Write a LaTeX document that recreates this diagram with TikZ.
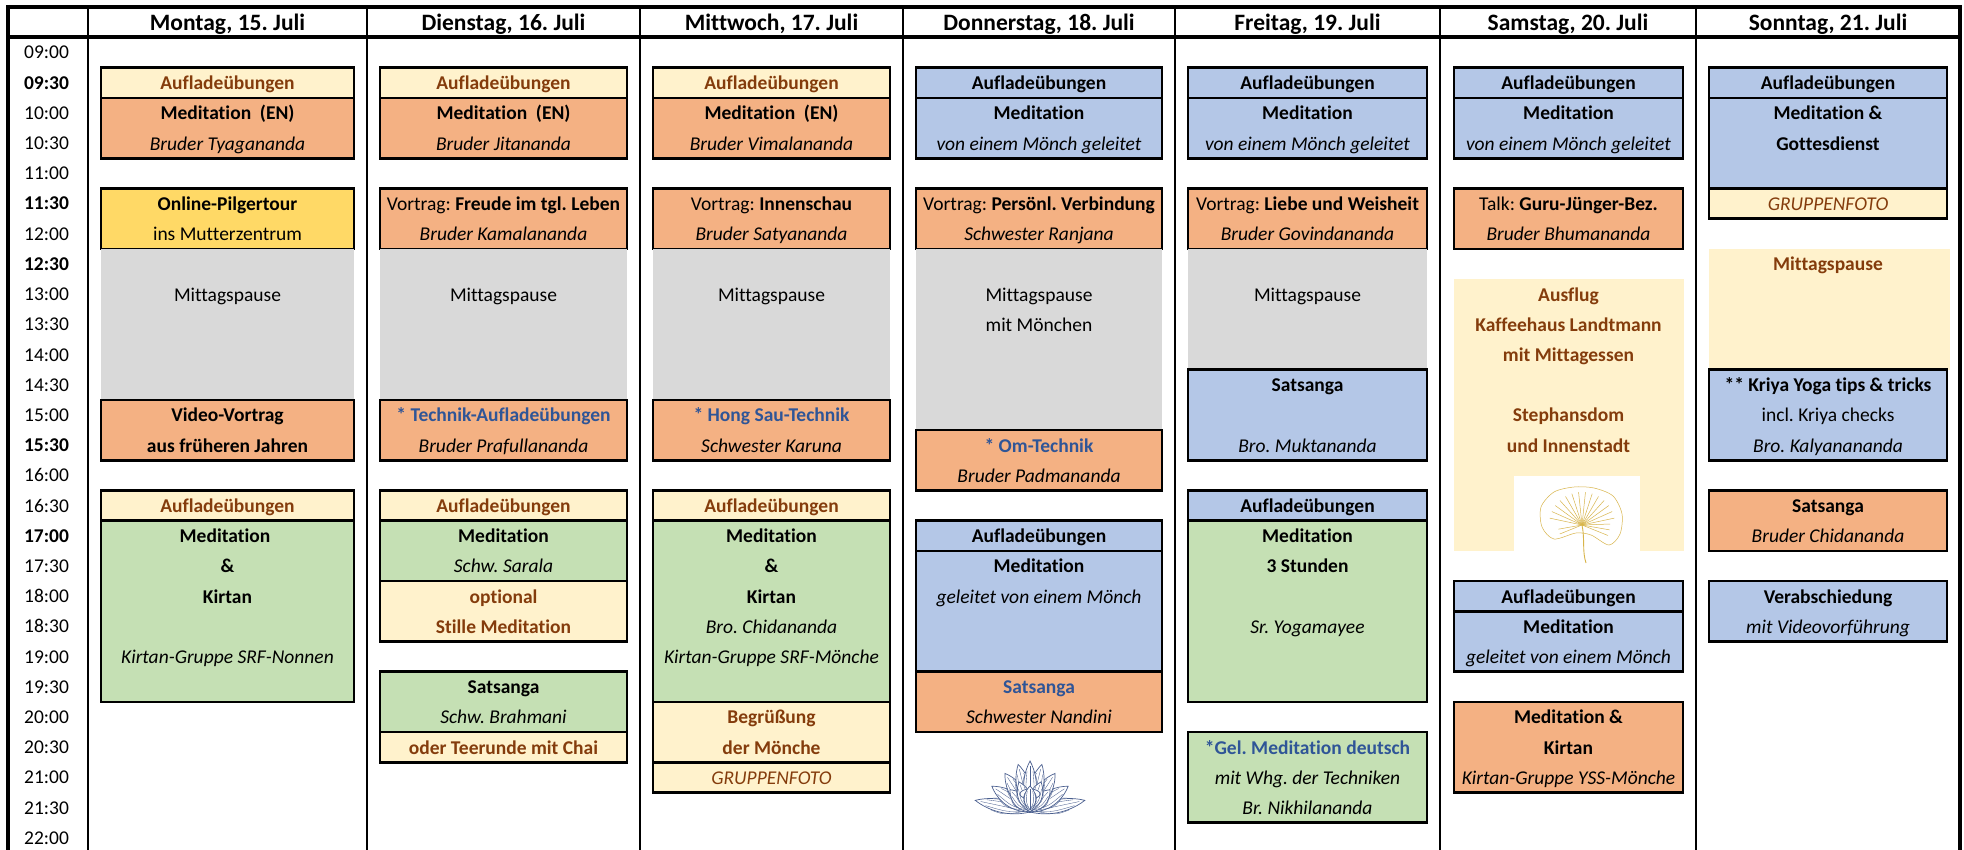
\documentclass[tikz,border=0pt]{standalone}
\usepackage{fontspec}
\setmainfont{Carlito}[Ligatures={NoCommon}]
\frenchspacing
\definecolor{cream}{HTML}{FFF2CC}
\definecolor{orng}{HTML}{F4B183}
\definecolor{blu}{HTML}{B4C7E7}
\definecolor{grn}{HTML}{C5E0B4}
\definecolor{gry}{HTML}{D9D9D9}
\definecolor{yel}{HTML}{FFD966}
\definecolor{brn}{HTML}{843C0C}
\definecolor{tblu}{HTML}{2F5597}
\definecolor{lotusc}{HTML}{4A5F8F}
\definecolor{ginkc}{HTML}{D8B54A}
\newcommand\fs{\fontsize{19.5}{23}\selectfont}
\newcommand\hs{\fontsize{23.5}{27}\selectfont}
\newcommand\slot[5]{\path[#5] (#1,{37.5+30.2*(#3)}) rectangle (#2,{37.5+30.2*(#4)});}
\newcommand\tline[5]{\node[txt,#4] (#1) at (#2,{37.5+30.2*(#3)+22}) {#5};}
\newcommand\petal[3]{%
  \draw[lotus, rotate=#1] (0,0) .. controls (-#3,-0.45*#2) and (-0.35*#3,-0.85*#2) .. (0,-#2) .. controls (0.35*#3,-0.85*#2) and (#3,-0.45*#2) .. cycle;
  \draw[lotusv, rotate=#1] (0,-0.08*#2) -- (0,-0.9*#2);
  \draw[lotusv, rotate=#1] (0,-0.08*#2) .. controls (-0.4*#3,-0.4*#2) .. (-0.25*#3,-0.8*#2);
  \draw[lotusv, rotate=#1] (0,-0.08*#2) .. controls (0.4*#3,-0.4*#2) .. (0.25*#3,-0.8*#2);
  \draw[lotusv, rotate=#1] (0,-0.08*#2) .. controls (-0.7*#3,-0.45*#2) .. (-0.5*#3,-0.7*#2);
  \draw[lotusv, rotate=#1] (0,-0.08*#2) .. controls (0.7*#3,-0.45*#2) .. (0.5*#3,-0.7*#2);}
\begin{document}
\begin{tikzpicture}[x=1pt,y=-1pt,
  txt/.style={anchor=base, inner sep=0pt, font=\fs},
  tbold/.style={font=\fs\bfseries},
  tital/.style={font=\fs\itshape},
  treg/.style={},
  tbrown/.style={font=\fs\bfseries, text=brn},
  tbrowni/.style={font=\fs\itshape, text=brn},
  tblue/.style={font=\fs\bfseries, text=tblu},
  hd/.style={anchor=base, inner sep=0pt, font=\hs\bfseries},
  tn/.style={}, tb/.style={font=\fs\bfseries},
  frame/.style={line width=4pt, draw=black},
  gridl/.style={line width=2.2pt, draw=black},
  boxcr/.style={fill=cream, draw=black, line width=2.5pt},
  boxor/.style={fill=orng, draw=black, line width=2.5pt},
  boxbu/.style={fill=blu, draw=black, line width=2.5pt},
  boxgr/.style={fill=grn, draw=black, line width=2.5pt},
  boxye/.style={fill=yel, draw=black, line width=2.5pt},
  boxgy/.style={fill=gry},
  boxcn/.style={fill=cream},
  lotus/.style={draw=lotusc, fill=white, line width=0.7pt},
  lotusv/.style={draw=lotusc, line width=0.35pt},
  ginkgo/.style={draw=ginkc, line width=0.5pt}]
\useasboundingbox (0,0) rectangle (1964,850);
\fill[white] (0,0) rectangle (1964,850);
% ---------- boxes ----------
% Monday
\slot{101}{354}{1}{2}{boxcr}
\slot{101}{354}{2}{4}{boxor}
\slot{101}{354}{5}{7}{boxye}
\slot{101}{354}{7}{12}{boxgy}
\slot{101}{354}{12}{14}{boxor}
\slot{101}{354}{15}{16}{boxcr}
\slot{101}{354}{16}{22}{boxgr}
% Tuesday
\slot{380}{627}{1}{2}{boxcr}
\slot{380}{627}{2}{4}{boxor}
\slot{380}{627}{5}{7}{boxor}
\slot{380}{627}{7}{12}{boxgy}
\slot{380}{627}{12}{14}{boxor}
\slot{380}{627}{15}{16}{boxcr}
\slot{380}{627}{16}{18}{boxgr}
\slot{380}{627}{18}{20}{boxcr}
\slot{380}{627}{21}{23}{boxgr}
\slot{380}{627}{23}{24}{boxcr}
% Wednesday
\slot{653}{890}{1}{2}{boxcr}
\slot{653}{890}{2}{4}{boxor}
\slot{653}{890}{5}{7}{boxor}
\slot{653}{890}{7}{12}{boxgy}
\slot{653}{890}{12}{14}{boxor}
\slot{653}{890}{15}{16}{boxcr}
\slot{653}{890}{16}{22}{boxgr}
\slot{653}{890}{22}{24}{boxcr}
\slot{653}{890}{24}{25}{boxcr}
% Thursday
\slot{916}{1162}{1}{2}{boxbu}
\slot{916}{1162}{2}{4}{boxbu}
\slot{916}{1162}{5}{7}{boxor}
\slot{916}{1162}{7}{13}{boxgy}
\slot{916}{1162}{13}{15}{boxor}
\slot{916}{1162}{16}{17}{boxbu}
\slot{916}{1162}{17}{21}{boxbu}
\slot{916}{1162}{21}{23}{boxor}
% Friday
\slot{1188}{1427}{1}{2}{boxbu}
\slot{1188}{1427}{2}{4}{boxbu}
\slot{1188}{1427}{5}{7}{boxor}
\slot{1188}{1427}{7}{11}{boxgy}
\slot{1188}{1427}{11}{14}{boxbu}
\slot{1188}{1427}{15}{16}{boxbu}
\slot{1188}{1427}{16}{22}{boxgr}
\slot{1188}{1427}{23}{26}{boxgr}
% Saturday
\slot{1454}{1683}{1}{2}{boxbu}
\slot{1454}{1683}{2}{4}{boxbu}
\slot{1454}{1683}{5}{7}{boxor}
\slot{1454}{1684}{8}{17}{boxcn}
\slot{1454}{1683}{18}{19}{boxbu}
\slot{1454}{1683}{19}{21}{boxbu}
\slot{1454}{1683}{22}{25}{boxor}
% Sunday
\slot{1709}{1947}{1}{2}{boxbu}
\slot{1709}{1947}{2}{5}{boxbu}
\slot{1709}{1947}{5}{6}{boxcr}
\slot{1709}{1950}{7}{11}{boxcn}
\slot{1709}{1947}{11}{14}{boxbu}
\slot{1709}{1947}{15}{17}{boxor}
\slot{1709}{1947}{18}{20}{boxbu}
% ---------- grid ----------
\draw[frame] (6,7) -- (1962,7);
\draw[frame] (6,37.5) -- (1962,37.5);
\draw[frame] (8,5) -- (8,850);
\draw[frame] (1960,5) -- (1960,850);
\foreach \x in {88,367,640,903,1175,1440,1696} \draw[gridl] (\x,7) -- (\x,850);
% ---------- headers ----------
\node[hd] (h1) at (227.5,31) {Montag, 15. Juli};
\node[hd] (h2) at (503.5,31) {Dienstag, 16. Juli};
\node[hd] (h3) at (771.5,31) {Mittwoch, 17. Juli};
\node[hd] (h4) at (1039,31) {Donnerstag, 18. Juli};
\node[hd] (h5) at (1307.5,31) {Freitag, 19. Juli};
\node[hd] (h6) at (1568,31) {Samstag, 20. Juli};
\node[hd] (h7) at (1828,31) {Sonntag, 21. Juli};
% ---------- times ----------
\foreach \i/\lab/\w in {0/09:00/tn,1/09:30/tb,2/10:00/tn,3/10:30/tn,4/11:00/tn,5/11:30/tb,6/12:00/tn,7/12:30/tb,8/13:00/tn,9/13:30/tn,10/14:00/tn,11/14:30/tn,12/15:00/tn,13/15:30/tb,14/16:00/tn,15/16:30/tn,16/17:00/tb,17/17:30/tn,18/18:00/tn,19/18:30/tn,20/19:00/tn,21/19:30/tn,22/20:00/tn,23/20:30/tn,24/21:00/tn,25/21:30/tn,26/22:00/tn}
  \node[txt,\w] (t\i) at (46.5,{37.5+30.2*\i+21.5}) {\lab};
% ---------- Monday texts ----------
\tline{mo1}{227.5}{1}{tbrown}{Aufladeübungen}
\tline{mo2}{227.5}{2}{tbold}{Meditation\hspace{0.45em}(EN)}
\tline{mo3}{227.5}{3}{tital}{Bruder Tyagananda}
\tline{mo4}{227.5}{5}{tbold}{Online-Pilgertour}
\tline{mo5}{227.5}{6}{treg}{ins Mutterzentrum}
\tline{mo6}{227.5}{8}{treg}{Mittagspause}
\tline{mo7}{227.5}{12}{tbold}{Video-Vortrag}
\tline{mo8}{227.5}{13}{tbold}{aus früheren Jahren}
\tline{mo9}{227.5}{15}{tbrown}{Aufladeübungen}
\tline{mo10}{225}{16}{tbold}{Meditation}
\tline{mo11}{227.5}{17}{tbold}{\&}
\tline{mo12}{227.5}{18}{tbold}{Kirtan}
\tline{mo13}{227.5}{20}{tital}{Kirtan-Gruppe SRF-Nonnen}
% ---------- Tuesday texts ----------
\tline{tu1}{503.5}{1}{tbrown}{Aufladeübungen}
\tline{tu2}{503.5}{2}{tbold}{Meditation\hspace{0.45em}(EN)}
\tline{tu3}{503.5}{3}{tital}{Bruder Jitananda}
\tline{tu4}{503.5}{5}{treg}{Vortrag: \textbf{Freude im tgl. Leben}}
\tline{tu5}{503.5}{6}{tital}{Bruder Kamalananda}
\tline{tu6}{503.5}{8}{treg}{Mittagspause}
\tline{tu7}{503.5}{12}{tblue}{* Technik-Aufladeübungen}
\tline{tu8}{503.5}{13}{tital}{Bruder Prafullananda}
\tline{tu9}{503.5}{15}{tbrown}{Aufladeübungen}
\tline{tu10}{503.5}{16}{tbold}{Meditation}
\tline{tu11}{503.5}{17}{tital}{Schw. Sarala}
\tline{tu12}{503.5}{18}{tbrown}{optional}
\tline{tu13}{503.5}{19}{tbrown}{Stille Meditation}
\tline{tu14}{503.5}{21}{tbold}{Satsanga}
\tline{tu15}{503.5}{22}{tital}{Schw. Brahmani}
\tline{tu16}{503.5}{23}{tbrown}{oder Teerunde mit Chai}
% ---------- Wednesday texts ----------
\tline{we1}{771.5}{1}{tbrown}{Aufladeübungen}
\tline{we2}{771.5}{2}{tbold}{Meditation\hspace{0.45em}(EN)}
\tline{we3}{771.5}{3}{tital}{Bruder Vimalananda}
\tline{we4}{771.5}{5}{treg}{Vortrag: \textbf{Innenschau}}
\tline{we5}{771.5}{6}{tital}{Bruder Satyananda}
\tline{we6}{771.5}{8}{treg}{Mittagspause}
\tline{we7}{771.5}{12}{tblue}{* Hong Sau-Technik}
\tline{we8}{771.5}{13}{tital}{Schwester Karuna}
\tline{we9}{771.5}{15}{tbrown}{Aufladeübungen}
\tline{we10}{771.5}{16}{tbold}{Meditation}
\tline{we11}{771.5}{17}{tbold}{\&}
\tline{we12}{771.5}{18}{tbold}{Kirtan}
\tline{we13}{771.5}{19}{tital}{Bro. Chidananda}
\tline{we14}{771.5}{20}{tital}{Kirtan-Gruppe SRF-Mönche}
\tline{we15}{771.5}{22}{tbrown}{Begrüßung}
\tline{we16}{771.5}{23}{tbrown}{der Mönche}
\tline{we17}{771.5}{24}{tbrowni}{GRUPPENFOTO}
% ---------- Thursday texts ----------
\tline{th1}{1039}{1}{tbold}{Aufladeübungen}
\tline{th2}{1039}{2}{tbold}{Meditation}
\tline{th3}{1039}{3}{tital}{von einem Mönch geleitet}
\tline{th4}{1039}{5}{treg}{Vortrag: \textbf{Persönl. Verbindung}}
\tline{th5}{1039}{6}{tital}{Schwester Ranjana}
\tline{th6}{1039}{8}{treg}{Mittagspause}
\tline{th7}{1039}{9}{treg}{mit Mönchen}
\tline{th8}{1039}{13}{tblue}{* Om-Technik}
\tline{th9}{1039}{14}{tital}{Bruder Padmananda}
\tline{th10}{1039}{16}{tbold}{Aufladeübungen}
\tline{th11}{1039}{17}{tbold}{Meditation}
\tline{th12}{1039}{18}{tital}{geleitet von einem Mönch}
\tline{th13}{1039}{21}{tblue}{Satsanga}
\tline{th14}{1039}{22}{tital}{Schwester Nandini}
% ---------- Friday texts ----------
\tline{fr1}{1307.5}{1}{tbold}{Aufladeübungen}
\tline{fr2}{1307.5}{2}{tbold}{Meditation}
\tline{fr3}{1307.5}{3}{tital}{von einem Mönch geleitet}
\tline{fr4}{1307.5}{5}{treg}{Vortrag: \textbf{Liebe und Weisheit}}
\tline{fr5}{1307.5}{6}{tital}{Bruder Govindananda}
\tline{fr6}{1307.5}{8}{treg}{Mittagspause}
\tline{fr7}{1307.5}{11}{tbold}{Satsanga}
\tline{fr8}{1307.5}{13}{tital}{Bro. Muktananda}
\tline{fr9}{1307.5}{15}{tbold}{Aufladeübungen}
\tline{fr10}{1307.5}{16}{tbold}{Meditation}
\tline{fr11}{1307.5}{17}{tbold}{3 Stunden}
\tline{fr12}{1307.5}{19}{tital}{Sr. Yogamayee}
\tline{fr13}{1307.5}{23}{tblue}{*Gel. Meditation deutsch}
\tline{fr14}{1307.5}{24}{tital}{mit Whg. der Techniken}
\tline{fr15}{1307.5}{25}{tital}{Br. Nikhilananda}
% ---------- Saturday texts ----------
\tline{sa1}{1568.5}{1}{tbold}{Aufladeübungen}
\tline{sa2}{1568.5}{2}{tbold}{Meditation}
\tline{sa3}{1568.5}{3}{tital}{von einem Mönch geleitet}
\tline{sa4}{1568.5}{5}{treg}{Talk: \textbf{Guru-Jünger-Bez.}}
\tline{sa5}{1568.5}{6}{tital}{Bruder Bhumananda}
\tline{sa6}{1568.5}{8}{tbrown}{Ausflug}
\tline{sa7}{1568.5}{9}{tbrown}{Kaffeehaus Landtmann}
\tline{sa8}{1568.5}{10}{tbrown}{mit Mittagessen}
\tline{sa9}{1568.5}{12}{tbrown}{Stephansdom}
\tline{sa10}{1568.5}{13}{tbrown}{und Innenstadt}
\tline{sa11}{1568.5}{18}{tbold}{Aufladeübungen}
\tline{sa12}{1568.5}{19}{tbold}{Meditation}
\tline{sa13}{1568.5}{20}{tital}{geleitet von einem Mönch}
\tline{sa14}{1568.5}{22}{tbold}{Meditation \&}
\tline{sa15}{1568.5}{23}{tbold}{Kirtan}
\tline{sa16}{1568.5}{24}{tital}{Kirtan-Gruppe YSS-Mönche}
% ---------- Sunday texts ----------
\tline{so1}{1828}{1}{tbold}{Aufladeübungen}
\tline{so2}{1828}{2}{tbold}{Meditation \&}
\tline{so3}{1828}{3}{tbold}{Gottesdienst}
\tline{so4}{1828}{5}{tbrowni}{GRUPPENFOTO}
\tline{so5}{1828}{7}{tbrown}{Mittagspause}
\tline{so6}{1828}{11}{tbold}{** Kriya Yoga tips \& tricks}
\tline{so7}{1828}{12}{treg}{incl. Kriya checks}
\tline{so8}{1828}{13}{tital}{Bro. Kalyanananda}
\tline{so9}{1828}{15}{tbold}{Satsanga}
\tline{so10}{1828}{16}{tital}{Bruder Chidananda}
\tline{so11}{1828}{18}{tbold}{Verabschiedung}
\tline{so12}{1828}{19}{tital}{mit Videovorführung}
% ---------- lotus (Thursday) ----------
\begin{scope}[shift={(1030,812)}]
  \petal{-78}{56}{12}\petal{78}{56}{12}
  \petal{-56}{46}{14}\petal{56}{46}{14}
  \petal{-33}{46}{14}\petal{33}{46}{14}
  \petal{-14}{49}{13}\petal{14}{49}{13}
  \petal{0}{51}{12}
  \petal{-42}{30}{12}\petal{42}{30}{12}
  \petal{-20}{32}{12}\petal{20}{32}{12}
  \draw[lotus] (0,-18) ellipse (10 and 5);
  \foreach \px/\py in {-5/-18,0/-19,5/-18,-2.5/-16,2.5/-16}
    \fill[lotusc] (\px,\py) circle (0.9);
  \petal{0}{26}{11}
\end{scope}
% ---------- ginkgo (Saturday) ----------
\fill[white] (1514,476) rectangle (1640,553);
\begin{scope}[shift={(1582,525)}]
  \draw[ginkgo, fill=white] plot[smooth cycle] coordinates {(-6,8) (-28,14) (-40,2) (-41,-18) (-28,-33) (-8,-38) (12,-37) (31,-29) (40,-11) (38,9) (27,20) (9,10)};
  \foreach \a in {-168,-156,...,-12} \draw[ginkgo] (0,0) -- (\a:33);
  \foreach \a in {-2,10,22} \draw[ginkgo] (0,0) -- (\a:28);
  \foreach \a in {170,158} \draw[ginkgo] (0,0) -- (\a:24);
  \draw[ginkgo, line width=0.9pt] (0,0) .. controls (3,14) and (0,26) .. (4,38);
\end{scope}
\end{tikzpicture}
\end{document}
